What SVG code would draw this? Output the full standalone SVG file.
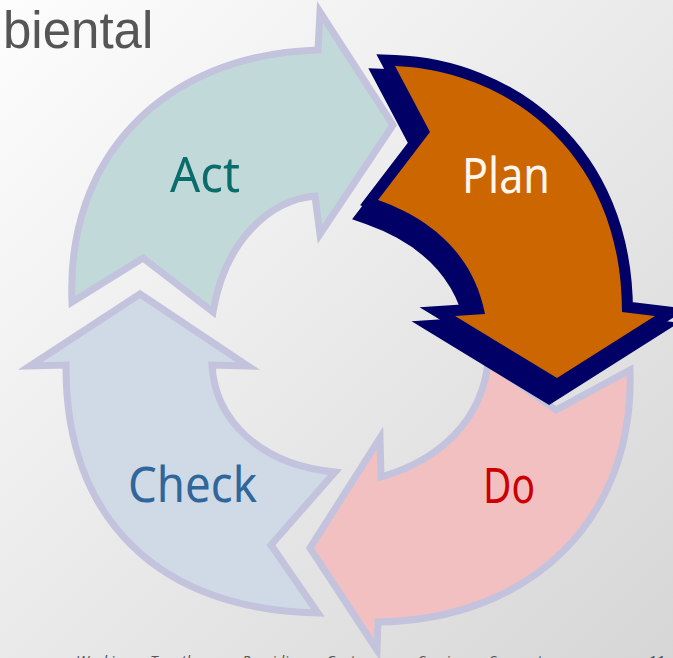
<svg xmlns="http://www.w3.org/2000/svg" width="673" height="658" viewBox="0 0 673 658">
<defs>
<linearGradient id="bg" x1="0" y1="0" x2="1" y2="1">
<stop offset="0" stop-color="#fdfdfd"/>
<stop offset="1" stop-color="#d6d6d6"/>
</linearGradient>
</defs>
<style>
.pale{stroke:#c3c3dd;stroke-width:7;stroke-linejoin:miter;stroke-miterlimit:10}
.lbl{font-family:"Noto Sans","Open Sans",sans-serif;font-size:50px}
.navy{fill:#000066;stroke:#000066;stroke-width:22;stroke-linejoin:miter;stroke-miterlimit:10}
</style>
<rect width="673" height="658" fill="url(#bg)"/>
<text x="3" y="48" font-family="Liberation Sans, Arial, sans-serif" font-size="51" fill="#555555">biental</text>

<g id="act">
<path class="pale" fill="#c1dad9" d="M 72 302 C 66 160, 160 55, 318 50 L 320 12 L 393 125 L 320 234 L 315 196 C 270 200, 225 240, 213 312 L 143 258 Z"/>
<text class="lbl" x="170" y="192" fill="#0b6d6b" textLength="70" lengthAdjust="spacingAndGlyphs">Act</text>
</g>

<g id="check">
<path class="pale" fill="#cfdae6" d="M 140 294 L 248 366 L 212 365 C 215 420, 260 465, 335 472 L 271 545 L 318 613 C 160 610, 65 520, 66 365 L 30 366 Z"/>
<text class="lbl" x="128" y="502" fill="#2f669b" textLength="129" lengthAdjust="spacingAndGlyphs">Check</text>
</g>

<g id="do">
<path class="pale" fill="#f2c0c0" d="M 630 370 C 635 520, 530 620, 378 622 L 377 650 L 310 548 L 380 438 L 381 477 C 440 460, 482 420, 488 362 L 556 410 Z"/>
<text class="lbl" x="483" y="503" fill="#cc0000" textLength="52" lengthAdjust="spacingAndGlyphs">Do</text>
</g>

<g id="plan">
<path class="navy" transform="translate(-8,14)" d="M 395 66 C 505 70, 622 150, 622 312 L 655 316 L 557 378 L 455 316 L 485 314 C 475 262, 440 222, 378 200 L 430 132 Z"/>
<path class="navy" d="M 395 66 C 505 70, 622 150, 622 312 L 655 316 L 557 378 L 455 316 L 485 314 C 475 262, 440 222, 378 200 L 430 132 Z"/>
<path fill="#cc6600" d="M 395 66 C 505 70, 622 150, 622 312 L 655 316 L 557 378 L 455 316 L 485 314 C 475 262, 440 222, 378 200 L 430 132 Z"/>
<text class="lbl" x="462" y="193" fill="#fff6ee" textLength="88" lengthAdjust="spacingAndGlyphs">Plan</text>
</g>

<g id="connectors"></g>

<text font-family="Open Sans, Liberation Sans, sans-serif" font-style="italic" font-size="15" fill="#555555" y="666"><tspan x="76">Working</tspan><tspan x="150">Together</tspan><tspan x="242">Providing</tspan><tspan x="326">Customer</tspan><tspan x="418">Service</tspan><tspan x="489">Support</tspan><tspan x="648">11</tspan></text>
</svg>
